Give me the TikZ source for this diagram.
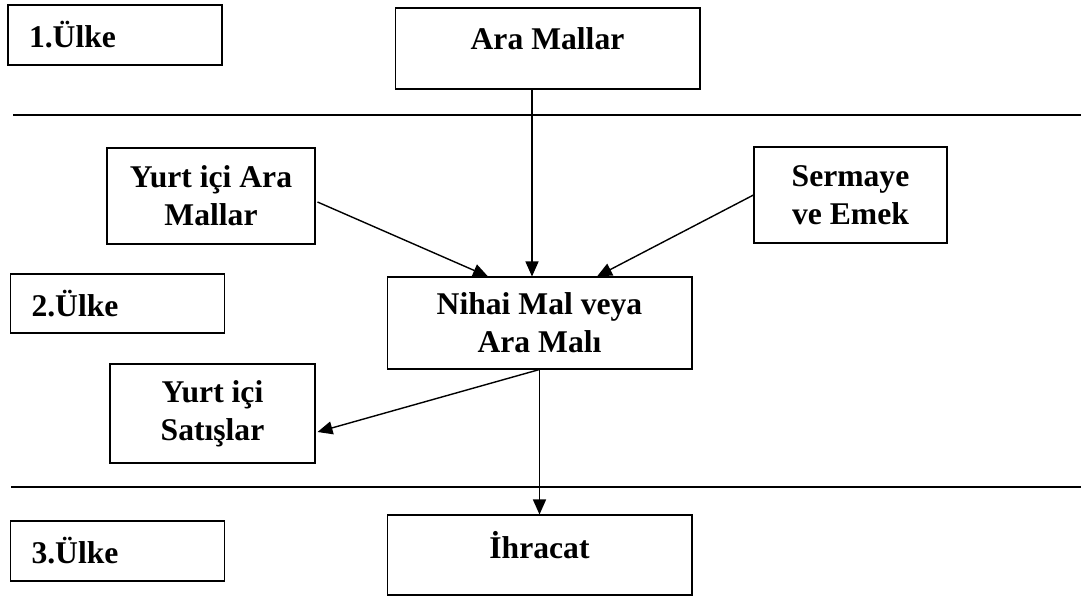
\documentclass[tikz,border=0pt]{standalone}
\usepackage{fontspec}
\setmainfont{Liberation Serif}
\usetikzlibrary{arrows.meta,calc}

\begin{document}
\begin{tikzpicture}[x=0.02cm, y=-0.02cm,
  box/.style={draw, line width=0.6pt, inner sep=0pt, align=center,
    font=\fontsize{18}{21.6}\selectfont\bfseries},
  ulkebox/.style={box, align=left, text width=3.44cm, inner xsep=0.42cm, minimum height=#1},
  flow/.style={line width=0.8pt, -{Triangle[length=0.3cm, width=0.26cm]}},
  border/.style={line width=1.7pt}]
\useasboundingbox (0,0) rectangle (1090,598);

% country labels
\node[ulkebox=1.2cm] (ulke1) at (115,35) {1.Ülke};
\node[ulkebox=1.18cm] (ulke2) at (117.5,303.5) {2.Ülke};
\node[ulkebox=1.2cm] (ulke3) at (117.5,551) {3.Ülke};

% country borders
\draw[border] (13,115) -- (1081,115);
\draw[border] (11,487) -- (1081,487);

% goods
\node[box, minimum width=6.1cm, minimum height=1.62cm, text depth=0.38cm] (ara) at (547.5,48.5) {Ara Mallar};
\node[box, minimum width=4.16cm, minimum height=1.92cm] (yurtara) at (211,196) {Yurt içi Ara\\Mallar};
\node[box, minimum width=3.86cm, minimum height=1.92cm] (sermaye) at (850.5,195) {Sermaye\\ve Emek};
\node[box, minimum width=6.1cm, minimum height=1.84cm] (nihai) at (539.5,323) {Nihai Mal veya\\Ara Malı};
\node[box, minimum width=4.1cm, minimum height=1.98cm] (yurtsat) at (212.5,413.5) {Yurt içi\\Satışlar};
\node[box, minimum width=6.1cm, minimum height=1.6cm, text depth=0.42cm] (ihracat) at (539.5,555) {İhracat};

% flows
\draw[flow] ($(ara.south)+(-15.5,0)$) -- ($(nihai.north)+(-7.5,0)$);
\draw[flow] ($(yurtara.east)+(2,6)$) -- ($(nihai.north)+(-51.5,0)$);
\draw[flow] (sermaye.west) -- ($(nihai.north)+(57.5,0)$);
\draw[flow] (nihai.south) -- ($(yurtsat.east)+(2,18.5)$);
\draw[flow] (nihai.south) -- (ihracat.north);
\end{tikzpicture}
\end{document}
